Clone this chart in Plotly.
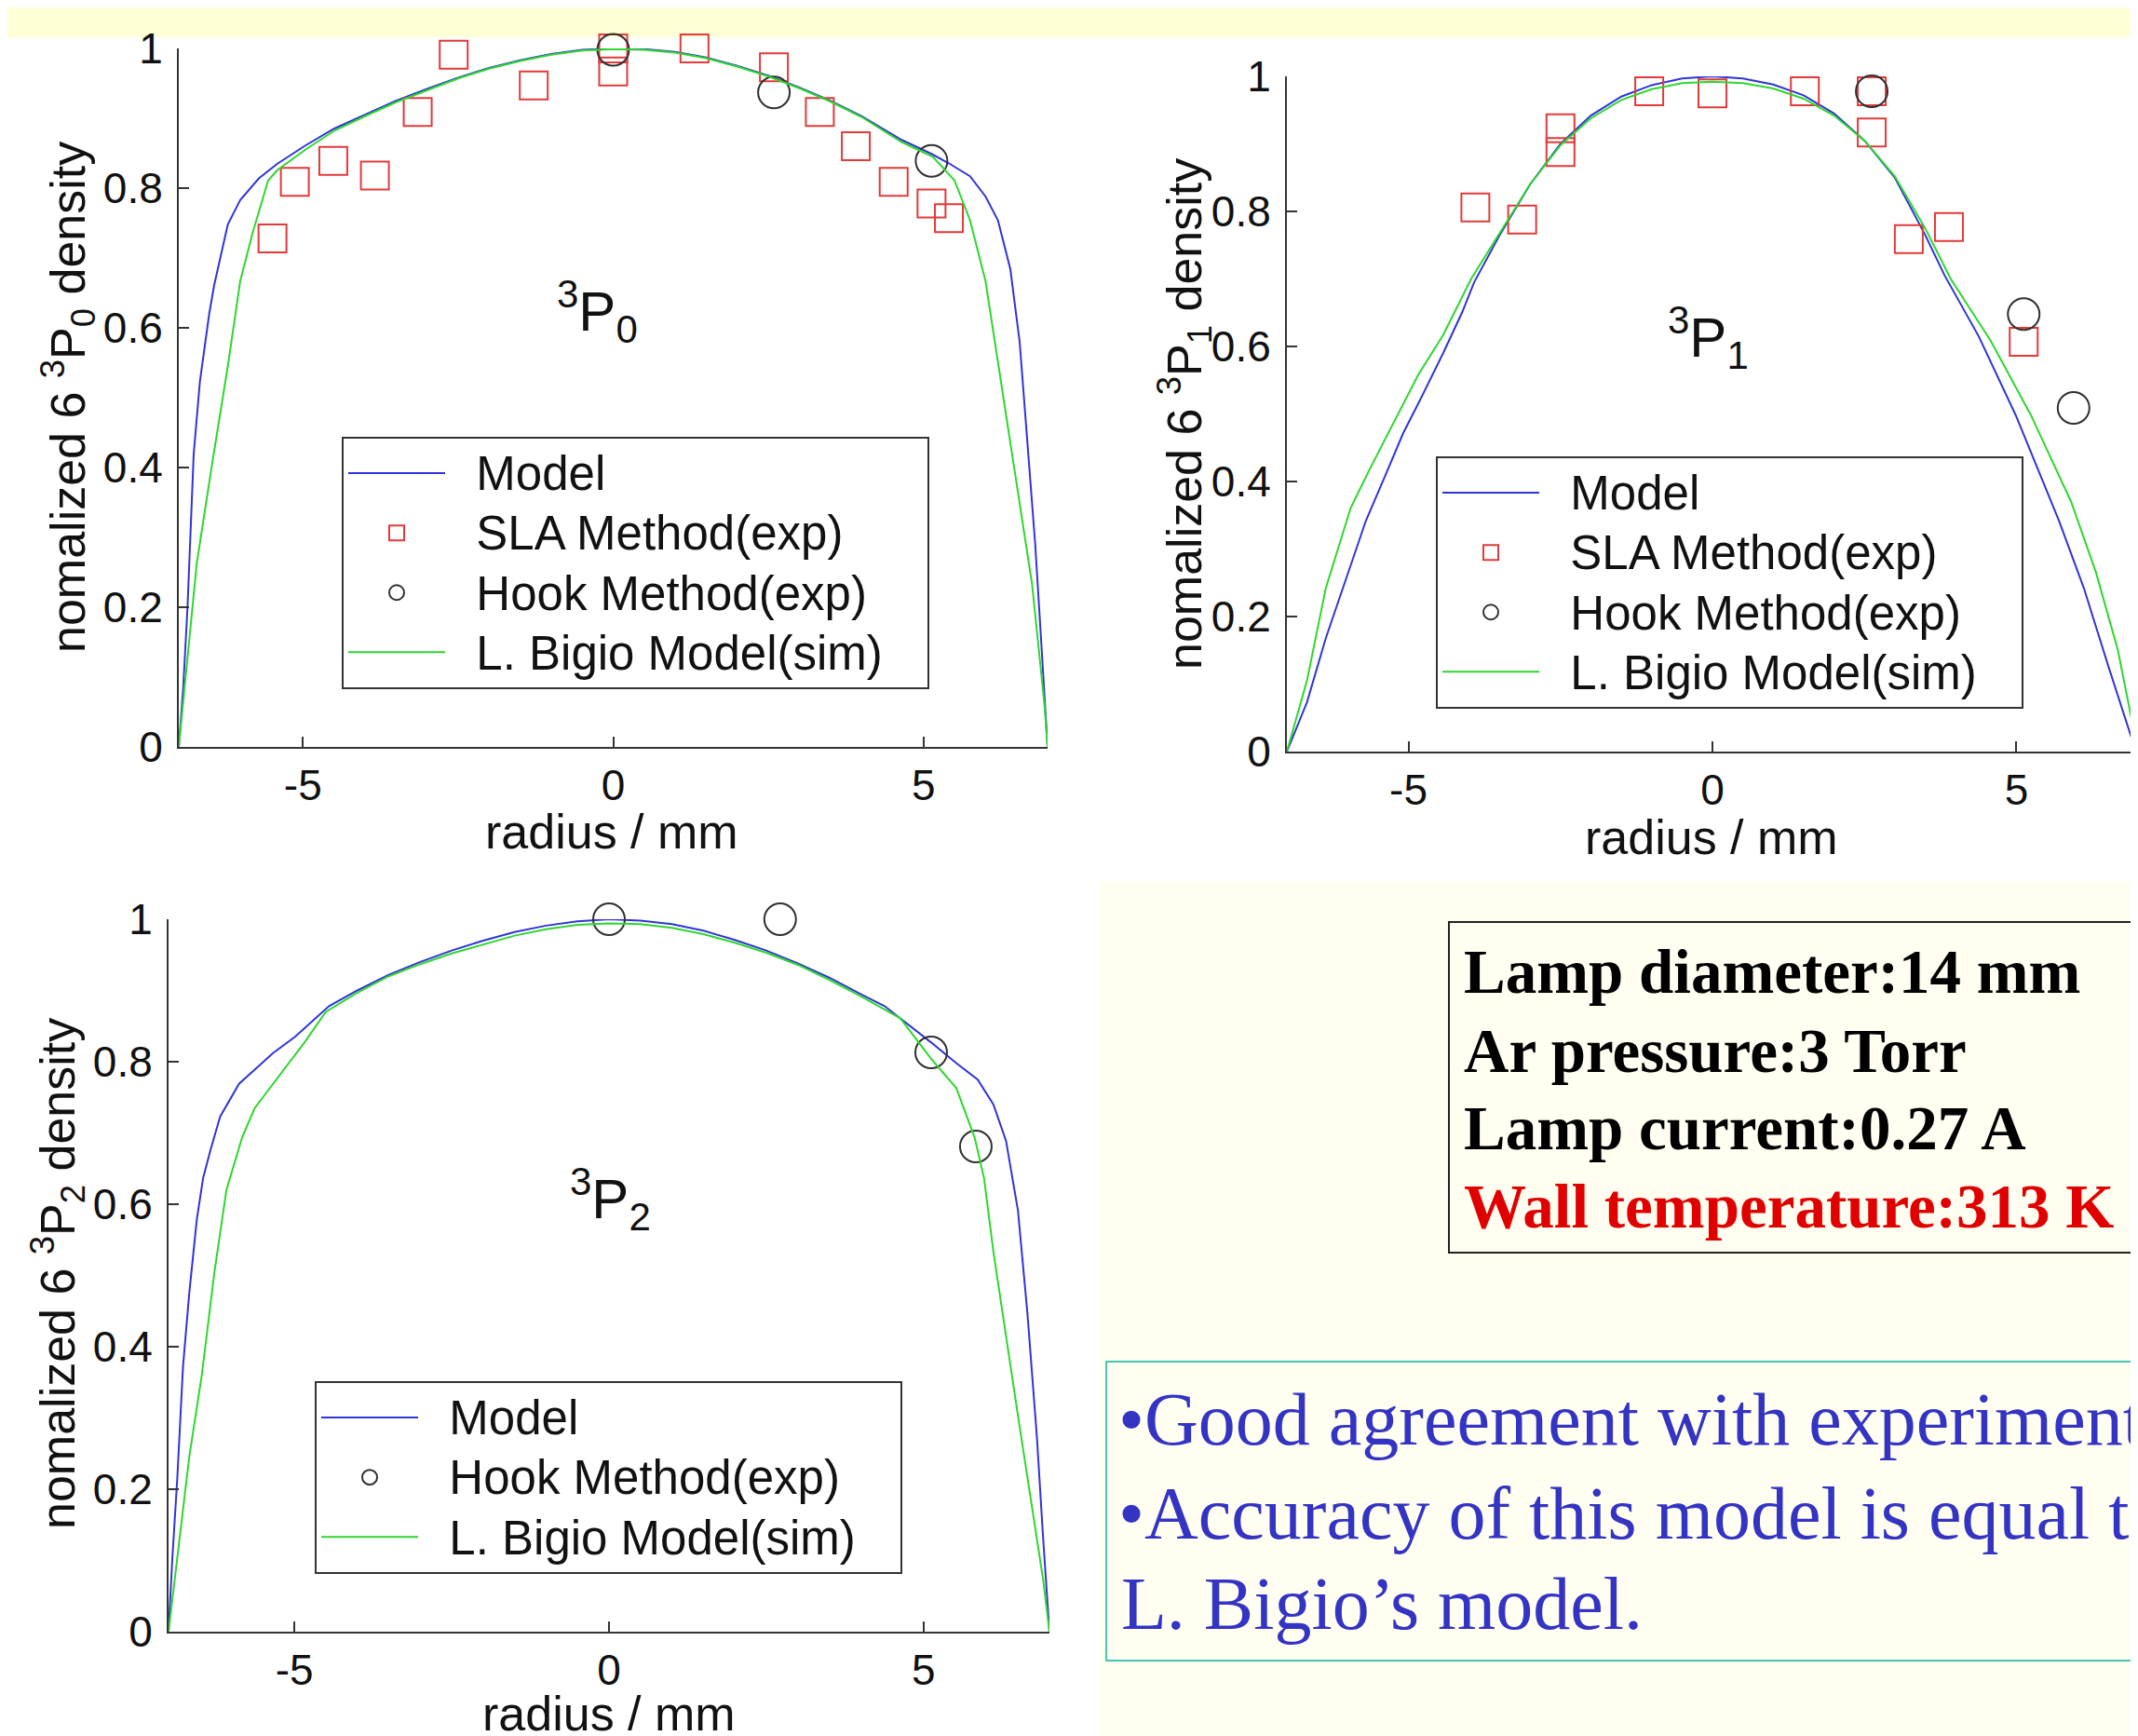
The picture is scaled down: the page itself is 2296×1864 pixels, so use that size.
import plotly.graph_objects as go

# The page body adds an 8 px margin, so the figure is 8 px smaller and every
# reference pixel position is shifted by 8 px when converted to paper units.
OFF = 8
W, H = 2296 - OFF, 1864 - OFF

# ---------------- data ----------------
# Panel 1: 3P0
model_x_p0 = [-7.0, -6.93, -6.86, -6.76, -6.66, -6.51, -6.43, -6.21, -6.01, -5.71, -5.41, -4.96, -4.5, -4.0,
              -3.5, -3.0, -2.5, -2.0, -1.5, -1.0, -0.5, 0.0, 0.5, 1.0, 1.5, 2.0, 2.5, 3.0, 3.5, 4.0, 4.65,
              5.13, 5.40, 5.75, 6.0, 6.2, 6.4, 6.55, 6.7, 6.8, 6.9, 7.0]
model_y_p0 = [0.0, 0.083, 0.199, 0.419, 0.523, 0.62, 0.661, 0.748, 0.783, 0.814, 0.835, 0.861, 0.885, 0.905,
              0.925, 0.942, 0.958, 0.972, 0.983, 0.992, 0.998, 1.0, 0.999, 0.995, 0.987, 0.975, 0.961, 0.944,
              0.925, 0.903, 0.869, 0.849, 0.836, 0.817, 0.788, 0.754, 0.684, 0.58, 0.407, 0.291, 0.147, 0.0]
bigio_x_p0 = [-7.0, -6.71, -6.46, -6.21, -6.01, -5.81, -5.56, -5.41, -4.96, -4.5, -4.0, -3.5, -3.0, -2.5,
              -2.0, -1.5, -1.0, -0.5, 0.0, 0.5, 1.0, 1.5, 2.0, 2.5, 3.0, 3.5, 4.0, 4.65, 5.15, 5.5, 5.75,
              6.0, 6.15, 6.35, 6.55, 6.75, 6.95, 7.0]
bigio_y_p0 = [0.0, 0.263, 0.407, 0.545, 0.667, 0.736, 0.811, 0.826, 0.855, 0.882, 0.903, 0.923, 0.94, 0.957,
              0.971, 0.982, 0.991, 0.997, 0.999, 0.998, 0.994, 0.986, 0.974, 0.96, 0.943, 0.924, 0.902, 0.866,
              0.845, 0.811, 0.754, 0.667, 0.58, 0.464, 0.349, 0.233, 0.06, 0.0]
sla_x_p0 = [-5.49, -5.13, -4.51, -3.84, -3.15, -2.57, -1.28, 0.0, 0.0, 1.31, 2.59, 3.33, 3.91, 4.52, 5.13, 5.41]
sla_y_p0 = [0.728, 0.809, 0.839, 0.818, 0.909, 0.991, 0.947, 1.0, 0.967, 1.0, 0.973, 0.909, 0.86, 0.809, 0.778, 0.757]
hook_x_p0 = [0.0, 2.59, 5.13]
hook_y_p0 = [0.998, 0.937, 0.839]

# Panel 2: 3P1
model_x_p1 = [-7.0, -6.67, -6.36, -6.06, -5.7, -5.39, -5.09, -4.78, -4.43, -4.12, -3.92, -3.5, -3.0, -2.5,
              -2.0, -1.5, -1.0, -0.5, 0.0, 0.5, 1.0, 1.5, 2.0, 2.5, 3.0, 3.5, 3.82, 4.38, 4.99, 5.7, 6.11,
              6.51, 6.92, 7.0]
model_y_p1 = [0.0, 0.073, 0.168, 0.247, 0.342, 0.407, 0.471, 0.526, 0.59, 0.65, 0.695, 0.765, 0.84, 0.9,
              0.942, 0.97, 0.987, 0.997, 1.0, 0.997, 0.988, 0.972, 0.945, 0.905, 0.85, 0.765, 0.705, 0.615,
              0.498, 0.342, 0.242, 0.127, 0.013, 0.0]
bigio_x_p1 = [-7.0, -6.67, -6.36, -5.95, -5.65, -5.24, -4.84, -4.43, -3.97, -3.5, -3.0, -2.5, -2.0, -1.5,
              -1.0, -0.5, 0.0, 0.5, 1.0, 1.5, 2.0, 2.5, 3.0, 3.5, 3.92, 4.58, 5.24, 5.9, 6.31, 6.67, 7.0]
bigio_y_p1 = [0.0, 0.105, 0.242, 0.361, 0.416, 0.489, 0.558, 0.617, 0.70, 0.768, 0.84, 0.898, 0.938, 0.965,
              0.981, 0.99, 0.992, 0.99, 0.982, 0.967, 0.942, 0.905, 0.852, 0.775, 0.70, 0.608, 0.498, 0.37,
              0.265, 0.15, 0.0]
sla_x_p1 = [-3.90, -3.13, -2.50, -2.50, -1.04, 0.0, 0.0, 1.52, 2.62, 2.62, 3.23, 3.89, 5.12]
sla_y_p1 = [0.806, 0.788, 0.923, 0.888, 0.978, 1.029, 0.975, 0.978, 0.978, 0.917, 0.759, 0.777, 0.607]
hook_x_p1 = [0.0, 2.62, 5.12, 5.94]
hook_y_p1 = [1.002, 0.978, 0.648, 0.509]

# Panel 3: 3P2
model_x_p2 = [-7.0, -6.94, -6.86, -6.77, -6.67, -6.55, -6.45, -6.33, -6.18, -5.88, -5.63, -5.34, -4.99, -4.45,
              -4.0, -3.5, -3.0, -2.5, -2.0, -1.5, -1.0, -0.5, 0.0, 0.5, 1.0, 1.5, 2.0, 2.5, 3.0, 3.5, 4.0,
              4.38, 5.12, 5.52, 5.86, 6.11, 6.31, 6.5, 6.65, 6.8, 6.9, 7.0]
model_y_p2 = [0.0, 0.102, 0.217, 0.372, 0.476, 0.579, 0.637, 0.677, 0.723, 0.769, 0.789, 0.812, 0.835, 0.878,
              0.9, 0.922, 0.94, 0.956, 0.97, 0.982, 0.991, 0.997, 1.0, 0.998, 0.993, 0.984, 0.971, 0.956,
              0.938, 0.918, 0.895, 0.878, 0.827, 0.798, 0.775, 0.74, 0.689, 0.591, 0.447, 0.274, 0.131, 0.0]
bigio_x_p2 = [-7.0, -6.67, -6.47, -6.27, -6.08, -5.83, -5.63, -5.34, -5.14, -4.84, -4.5, -4.0, -3.5, -3.0,
              -2.5, -2.0, -1.5, -1.0, -0.5, 0.0, 0.5, 1.0, 1.5, 2.0, 2.5, 3.0, 3.5, 4.0, 4.63, 5.12, 5.52,
              5.81, 5.96, 6.11, 6.3, 6.5, 6.7, 6.9, 7.0]
bigio_y_p2 = [0.0, 0.246, 0.361, 0.505, 0.62, 0.694, 0.735, 0.769, 0.792, 0.827, 0.87, 0.897, 0.92, 0.937,
              0.952, 0.965, 0.977, 0.986, 0.992, 0.994, 0.993, 0.988, 0.979, 0.967, 0.953, 0.936, 0.915,
              0.892, 0.861, 0.804, 0.763, 0.694, 0.637, 0.533, 0.418, 0.303, 0.188, 0.073, 0.0]
hook_x_p2 = [0.0, 2.72, 5.12, 5.83]
hook_y_p2 = [1.0, 1.0, 0.813, 0.681]

x_tickvals = [-5, 0, 5]
x_ticktext = ["-5", "0", "5"]
y_tickvals = [0, 0.2, 0.4, 0.6, 0.8, 1]
y_ticktext = ["0", "0.2", "0.4", "0.6", "0.8", "1"]

series_names = ["Model", "SLA Method(exp)", "Hook Method(exp)", "L. Bigio Model(sim)"]
state_labels = ["<sup>3</sup>P<sub>0</sub>", "<sup>3</sup>P<sub>1</sub>", "<sup>3</sup>P<sub>2</sub>"]
y_titles = ["nomalized 6 <sup>3</sup>P<sub>0</sub> density",
            "nomalized 6 <sup>3</sup>P<sub>1</sub> density",
            "nomalized 6 <sup>3</sup>P<sub>2</sub> density"]
x_title = "radius / mm"
info_lines = ["Lamp diameter:14 mm", "Ar pressure:3 Torr", "Lamp current:0.27 A", "Wall temperature:313 K"]
note_lines = ["\u2022Good agreement with experiment", "\u2022Accuracy of this model is equal to",
              "L. Bigio\u2019s model."]

# ---------------- styling ----------------
BLUE = "#2f35d6"
GREEN = "#2fd62f"
RED = "#e23a3a"
BLACK = "#303030"
SANS = "Liberation Sans, Arial, sans-serif"
SERIF = "Liberation Serif, Times New Roman, serif"
NB = "\u00a0\u00a0"


def px(x):
    return (x - OFF) / W


def py(y):
    return 1 - (y - OFF) / H


def leg_label(name):
    # legend rows keep MATLAB-like spacing while the label glyphs are a bit larger
    return '<span style="font-size:51px">' + NB + name + NB + '\u00a0</span>'


fig = go.Figure()

panels = [
    dict(xa="x", ya="y", lg="legend", mx=model_x_p0, my=model_y_p0, bx=bigio_x_p0, by=bigio_y_p0,
         sx=sla_x_p0, sy=sla_y_p0, hx=hook_x_p0, hy=hook_y_p0),
    dict(xa="x2", ya="y2", lg="legend2", mx=model_x_p1, my=model_y_p1, bx=bigio_x_p1, by=bigio_y_p1,
         sx=sla_x_p1, sy=sla_y_p1, hx=hook_x_p1, hy=hook_y_p1),
    dict(xa="x3", ya="y3", lg="legend3", mx=model_x_p2, my=model_y_p2, bx=bigio_x_p2, by=bigio_y_p2,
         sx=None, sy=None, hx=hook_x_p2, hy=hook_y_p2),
]

for i, p in enumerate(panels):
    fig.add_trace(go.Scatter(x=p["mx"], y=p["my"], mode="lines", name=leg_label(series_names[0]),
                             line=dict(color=BLUE, width=2), xaxis=p["xa"], yaxis=p["ya"],
                             legend=p["lg"], legendgroup=f"m{i}", cliponaxis=False))
    if p["sx"] is not None:
        fig.add_trace(go.Scatter(x=p["sx"], y=p["sy"], mode="markers", name=leg_label(series_names[1]),
                                 marker=dict(symbol="square-open", size=30, color=RED, line=dict(width=2)),
                                 xaxis=p["xa"], yaxis=p["ya"], legend=p["lg"], legendgroup=f"s{i}",
                                 cliponaxis=False))
    fig.add_trace(go.Scatter(x=p["hx"], y=p["hy"], mode="markers", name=leg_label(series_names[2]),
                             marker=dict(symbol="circle-open", size=34, color=BLACK, line=dict(width=2)),
                             xaxis=p["xa"], yaxis=p["ya"], legend=p["lg"], legendgroup=f"h{i}",
                             cliponaxis=False))
    fig.add_trace(go.Scatter(x=p["bx"], y=p["by"], mode="lines", name=leg_label(series_names[3]),
                             line=dict(color=GREEN, width=2), xaxis=p["xa"], yaxis=p["ya"],
                             legend=p["lg"], legendgroup=f"b{i}", cliponaxis=False))

axis_common = dict(showline=True, linecolor="#333333", linewidth=2, ticks="inside", ticklen=11,
                   tickwidth=2, tickcolor="#333333", showgrid=False, zeroline=False, automargin=False,
                   tickfont=dict(family=SANS, size=46, color="#111111"), fixedrange=True)

xdoms = [[px(192), px(1125)], [px(1382), 1.0], [px(181), px(1127)]]
ydoms = [[py(802), py(52)], [py(807), py(82)], [py(1752), py(987)]]
xranges = [[-7, 7], [-7, 7], [-7, 7]]

layout = dict(template="none", width=W, height=H, margin=dict(l=0, r=0, t=0, b=0, autoexpand=False),
              paper_bgcolor="white", plot_bgcolor="white", showlegend=True,
              font=dict(family=SANS, color="#111111"))
for i in range(3):
    sfx = "" if i == 0 else str(i + 1)
    layout["xaxis" + sfx] = dict(axis_common, domain=xdoms[i], range=xranges[i], tickvals=x_tickvals,
                                 ticktext=x_ticktext, anchor="y" + sfx, ticklabelstandoff=0)
    layout["yaxis" + sfx] = dict(axis_common, domain=ydoms[i], range=[0, 1], tickvals=y_tickvals,
                                 ticktext=y_ticktext, anchor="x" + sfx, ticklabelstandoff=6)

legend_pos = [(367, 469), (1542, 490), (338, 1483)]
for i, (lx, ly) in enumerate(legend_pos):
    key = "legend" if i == 0 else f"legend{i + 1}"
    layout[key] = dict(x=px(lx), y=py(ly), xanchor="left", yanchor="top", bgcolor="white",
                       bordercolor="#333333", borderwidth=2, itemwidth=104, tracegroupgap=0,
                       font=dict(family=SANS, size=47, color="#111111"), traceorder="normal")

fig.update_layout(**layout)

# background decorations
fig.add_shape(type="rect", xref="paper", yref="paper", x0=-0.01, x1=1.01, y0=py(40), y1=1.01,
              fillcolor="#fffed6", line=dict(width=0), layer="below")
fig.add_shape(type="rect", xref="paper", yref="paper", x0=px(1180), x1=1.01, y0=-0.01, y1=py(947),
              fillcolor="#fffef0", line=dict(width=0), layer="below")
fig.add_shape(type="rect", xref="paper", yref="paper", x0=px(1556), x1=px(2310), y0=py(1345), y1=py(990),
              fillcolor="rgba(0,0,0,0)", line=dict(color="#222222", width=2))
fig.add_shape(type="rect", xref="paper", yref="paper", x0=px(1188), x1=px(2310), y0=py(1783), y1=py(1462),
              fillcolor="rgba(0,0,0,0)", line=dict(color="#45c6b6", width=2))

ann = []
# state labels
for (lx, ly), t in zip([(641, 335), (1834, 362), (655, 1287)], state_labels):
    ann.append(dict(x=px(lx), y=py(ly), xref="paper", yref="paper", text=t, showarrow=False,
                    xanchor="center", yanchor="middle", font=dict(family=SANS, size=60, color="#111111")))
# y titles
for (lx, ly), t in zip([(73, 427), (1272, 444), (62, 1368)], y_titles):
    ann.append(dict(x=px(lx), y=py(ly), xref="paper", yref="paper", text=t, showarrow=False, textangle=-90,
                    xanchor="center", yanchor="middle", font=dict(family=SANS, size=52, color="#111111")))
# x titles
for (lx, ly) in [(657, 893), (1838, 899), (654, 1840)]:
    ann.append(dict(x=px(lx), y=py(ly), xref="paper", yref="paper", text=x_title, showarrow=False,
                    xanchor="center", yanchor="middle", font=dict(family=SANS, size=52, color="#111111")))
# info box
for j, (t, ly) in enumerate(zip(info_lines, [1043, 1128, 1211, 1295])):
    col = "#e00000" if j == 3 else "#000000"
    ann.append(dict(x=px(1570), y=py(ly), xref="paper", yref="paper", text="<b>" + t + "</b>",
                    showarrow=False, xanchor="left", yanchor="middle",
                    font=dict(family=SERIF, size=67, color=col)))
# note box
for t, ly, lx in zip(note_lines, [1524, 1625, 1722], [1199, 1199, 1202]):
    ann.append(dict(x=px(lx), y=py(ly), xref="paper", yref="paper", text=t, showarrow=False,
                    xanchor="left", yanchor="middle", font=dict(family=SERIF, size=80, color="#3434c4")))

fig.update_layout(annotations=ann)
fig.write_html("out.html")
